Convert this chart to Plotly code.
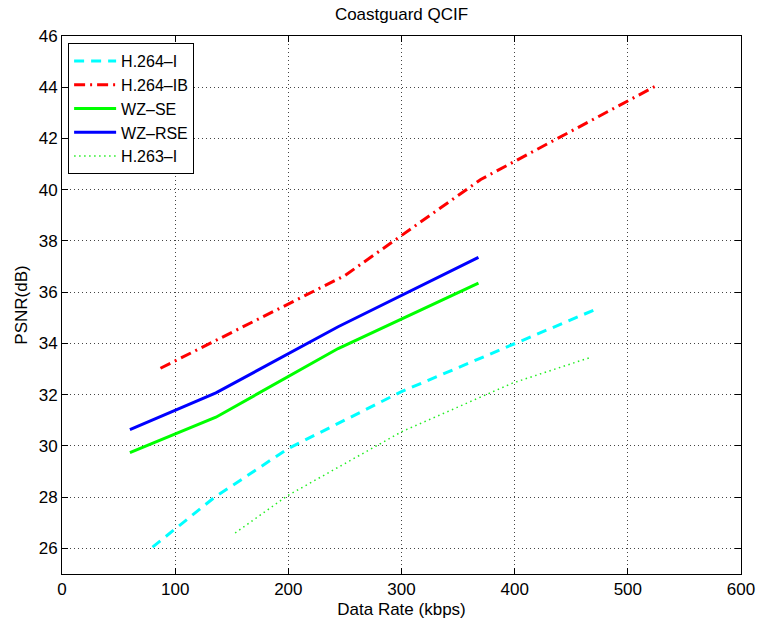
import plotly.graph_objects as go

# Rate (kbps) / PSNR (dB) operating points for each codec
h264_i_rate = [80, 135, 200, 300, 470]
h264_i_psnr = [26.05, 28.0, 29.9, 32.12, 35.3]

h264_ib_rate = [87, 199, 250, 370, 526]
h264_ib_psnr = [33.03, 35.5, 36.65, 40.4, 44.08]

wz_se_rate = [60, 136, 244, 368]
wz_se_psnr = [29.74, 31.12, 33.8, 36.35]

wz_rse_rate = [60, 136, 244, 368]
wz_rse_psnr = [30.64, 32.07, 34.65, 37.36]

h263_i_rate = [153, 199, 300, 398, 468]
h263_i_psnr = [26.6, 28.05, 30.55, 32.45, 33.47]

x_ticks = [0, 100, 200, 300, 400, 500, 600]
y_ticks = [26, 28, 30, 32, 34, 36, 38, 40, 42, 44, 46]

FONT = "Liberation Sans, Arial, Helvetica, sans-serif"

series = [
    ("H.264\u2013I", h264_i_rate, h264_i_psnr, "#00ffff", 3, "10px,7px"),
    ("H.264\u2013IB", h264_ib_rate, h264_ib_psnr, "#ff0000", 3, "11px,5px,2px,5px"),
    ("WZ\u2013SE", wz_se_rate, wz_se_psnr, "#00ff00", 3, "solid"),
    ("WZ\u2013RSE", wz_rse_rate, wz_rse_psnr, "#0000ff", 3, "solid"),
    ("H.263\u2013I", h263_i_rate, h263_i_psnr, "#22ee22", 1.5, "1.5px,3.5px"),
]

fig = go.Figure()
for name, xs, ys, color, width, dash in series:
    fig.add_trace(go.Scatter(
        x=xs, y=ys, mode="lines", name=name,
        line=dict(color=color, width=width, dash=dash),
    ))

axis_common = dict(
    showline=True, linecolor="black", linewidth=1, mirror="ticks",
    ticks="inside", ticklen=6, tickcolor="black",
    showgrid=True, gridcolor="#444444", gridwidth=1, griddash="1px,3px",
    zeroline=False,
    tickfont=dict(family=FONT, size=17, color="black"),
)

fig.update_layout(
    width=767, height=627,
    margin=dict(l=62, r=19, t=36, b=51),
    paper_bgcolor="white", plot_bgcolor="white",
    font=dict(family=FONT, size=17, color="black"),
    title=dict(text="Coastguard QCIF", x=0.5, xref="paper",
               y=1 - 14 / 627, yref="container", yanchor="middle",
               font=dict(family=FONT, size=17, color="black")),
    xaxis=dict(range=[0, 600], tickvals=x_ticks,
               title=dict(text="Data Rate (kbps)", standoff=4,
                          font=dict(family=FONT, size=17)),
               **axis_common),
    yaxis=dict(range=[25, 46], tickvals=y_ticks,
               title=dict(text="PSNR(dB)", standoff=6,
                          font=dict(family=FONT, size=17)),
               **axis_common),
    legend=dict(x=0.009, y=0.987, xanchor="left", yanchor="top",
                bgcolor="white", bordercolor="black", borderwidth=1,
                font=dict(family=FONT, size=16, color="black"),
                tracegroupgap=0, itemwidth=42),
    showlegend=True,
)

fig.write_html("out.html")
